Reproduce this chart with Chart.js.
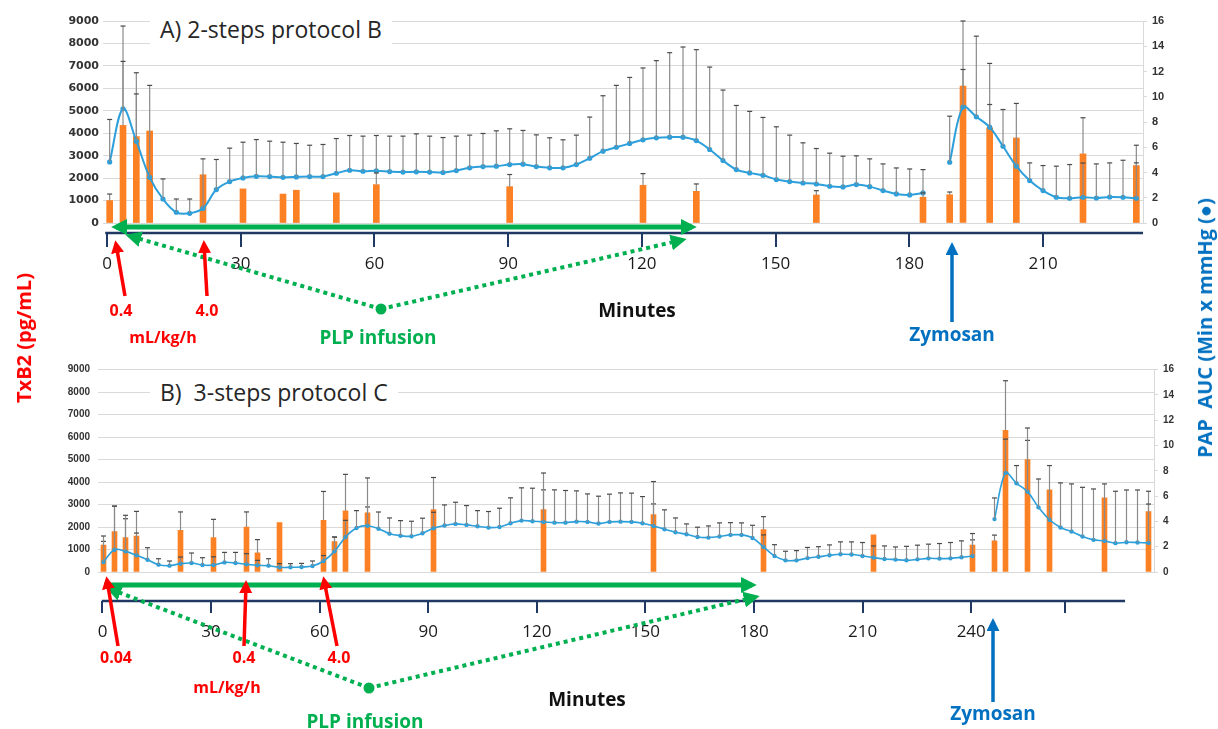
<!DOCTYPE html>
<html>
<head>
<meta charset="utf-8">
<script src="https://cdn.jsdelivr.net/npm/chart.js@4.4.1/dist/chart.umd.min.js"></script>
<style>
  body { margin: 0; background: #fff; width: 1218px; height: 729px; position: relative; overflow: hidden; font-family: "Open Sans", sans-serif; }
  canvas { position: absolute; left: 0; }
  #topChart { top: 0; }
  #botChart { top: 340px; }
  svg { position: absolute; left: 0; top: 0; }
  .t { position: absolute; white-space: nowrap; transform: translate(-50%, -50%); font-weight: 700; line-height: 1; }
  .red { color: #ff0000; font-size: 16px; }
  .big { font-size: 19px; }
  .green { color: #00b050; }
  .blue { color: #0070c0; }
  .rot { transform: translate(-50%, -50%) rotate(-90deg); font-size: 20px; }
  .title { position: absolute; background: #fff; font-size: 23px; color: #262626; line-height: 1; padding: 6px 10px; white-space: nowrap; }
</style>
</head>
<body>
<canvas id="topChart" width="1218" height="290"></canvas>
<canvas id="botChart" width="1218" height="310"></canvas>

<svg width="1218" height="729">
  <defs>
    <marker id="hRed" viewBox="0 0 10 10" refX="7" refY="5" markerWidth="13" markerHeight="13" markerUnits="userSpaceOnUse" orient="auto-start-reverse"><path d="M0,0 L10,5 L0,10 z" fill="#ff0000"/></marker>
    <marker id="hGreen" viewBox="0 0 10 10" refX="7" refY="5" markerWidth="16" markerHeight="16" markerUnits="userSpaceOnUse" orient="auto-start-reverse"><path d="M0,0 L10,5 L0,10 z" fill="#00b050"/></marker>
    <marker id="hBlue" viewBox="0 0 10 10" refX="7" refY="5" markerWidth="13" markerHeight="13" markerUnits="userSpaceOnUse" orient="auto-start-reverse"><path d="M0,0 L10,5 L0,10 z" fill="#0070c0"/></marker>
  </defs>
  <!-- panel A -->
  <line x1="116" y1="227" x2="692" y2="227" stroke="#00b050" stroke-width="5" marker-start="url(#hGreen)" marker-end="url(#hGreen)"/>
  <line x1="381" y1="309" x2="130" y2="236" stroke="#00b050" stroke-width="4" stroke-dasharray="4 4" marker-end="url(#hGreen)"/>
  <line x1="381" y1="309" x2="682" y2="240" stroke="#00b050" stroke-width="4" stroke-dasharray="4 4" marker-end="url(#hGreen)"/>
  <circle cx="381" cy="309" r="5.5" fill="#00b050"/>
  <line x1="125" y1="296" x2="116" y2="244" stroke="#ff0000" stroke-width="3.5" marker-end="url(#hRed)"/>
  <line x1="207" y1="296" x2="204" y2="244" stroke="#ff0000" stroke-width="3.5" marker-end="url(#hRed)"/>
  <line x1="952" y1="322" x2="952" y2="246" stroke="#0070c0" stroke-width="3.5" marker-end="url(#hBlue)"/>
  <!-- panel B -->
  <line x1="104" y1="585" x2="752" y2="585" stroke="#00b050" stroke-width="5" marker-end="url(#hGreen)"/>
  <line x1="369" y1="688" x2="110" y2="589" stroke="#00b050" stroke-width="4" stroke-dasharray="4 4" marker-end="url(#hGreen)"/>
  <line x1="369" y1="688" x2="755" y2="597" stroke="#00b050" stroke-width="4" stroke-dasharray="4 4" marker-end="url(#hGreen)"/>
  <circle cx="369" cy="688" r="5.5" fill="#00b050"/>
  <line x1="118" y1="646" x2="107" y2="580" stroke="#ff0000" stroke-width="3.5" marker-end="url(#hRed)"/>
  <line x1="244" y1="646" x2="246" y2="584" stroke="#ff0000" stroke-width="3.5" marker-end="url(#hRed)"/>
  <line x1="337" y1="646" x2="324" y2="580" stroke="#ff0000" stroke-width="3.5" marker-end="url(#hRed)"/>
  <line x1="993" y1="702" x2="993" y2="622" stroke="#0070c0" stroke-width="3.5" marker-end="url(#hBlue)"/>
</svg>

<div class="title" style="left:150px; top:12px;">A) 2-steps protocol B</div>
<div class="title" style="left:150px; top:375px;">B)&nbsp; 3-steps protocol C</div>

<div class="t red" style="left:121px; top:310px;">0.4</div>
<div class="t red" style="left:207px; top:310px;">4.0</div>
<div class="t red" style="left:163px; top:337px;">mL/kg/h</div>
<div class="t big" style="left:637px; top:310px; color:#111;">Minutes</div>
<div class="t big green" style="left:378px; top:337px;">PLP infusion</div>
<div class="t big blue" style="left:952px; top:334px;">Zymosan</div>

<div class="t red" style="left:116px; top:657px;">0.04</div>
<div class="t red" style="left:244px; top:657px;">0.4</div>
<div class="t red" style="left:339px; top:657px;">4.0</div>
<div class="t red" style="left:227px; top:687px;">mL/kg/h</div>
<div class="t big" style="left:587px; top:699px; color:#111;">Minutes</div>
<div class="t big green" style="left:365px; top:721px;">PLP infusion</div>
<div class="t big blue" style="left:993px; top:713px;">Zymosan</div>

<div class="t rot" style="left:24px; top:338px; color:#ff0000;">TxB2 (pg/mL)</div>
<div class="t rot" style="left:1205px; top:328px; color:#0070c0;">PAP&nbsp; AUC (Min x mmHg (●)</div>

<script>
const n = null;

// ---- Panel A: 2-steps protocol B ----
const topPap = [
  4.84, 9.05, 6.48, 3.62, 1.9, 0.85, 0.77, 1.16, 2.65, 3.28,
  3.57, 3.7, 3.68, 3.62, 3.65, 3.68, 3.68, 3.94, 4.18, 4.1,
  4.13, 4.07, 4.03, 4.05, 4.03, 4.0, 4.15, 4.37, 4.47, 4.5,
  4.63, 4.66, 4.47, 4.37, 4.37, 4.63, 5.13, 5.69, 6.0, 6.3,
  6.59, 6.75, 6.8, 6.8, 6.53, 5.82, 4.95, 4.23, 3.97, 3.78,
  3.44, 3.28, 3.17, 3.09, 2.91, 2.86, 3.04, 2.88, 2.57, 2.3,
  2.22, 2.38, n, 4.81, 9.18, 8.41, 7.59, 6.08, 4.5, 3.36,
  2.57, 2.04, 1.96, 2.04, 1.98, 2.06, 2.04, 1.96
];
const topPapErr = [
  8.2, 15.6, 11.9, 10.9, 3.49, 1.9, 1.9, 5.08, 5.03, 5.93,
  6.4, 6.61, 6.48, 6.4, 6.3, 6.16, 6.22, 6.69, 6.93, 6.88,
  6.93, 6.88, 6.88, 7.06, 6.88, 6.77, 6.88, 6.96, 7.09, 7.3,
  7.46, 7.33, 6.98, 6.75, 6.59, 6.96, 8.39, 10.08, 10.9, 11.53,
  12.28, 12.86, 13.49, 13.94, 13.73, 12.35, 10.53, 9.31, 8.84, 8.36,
  7.62, 6.96, 6.35, 5.9, 5.53, 5.29, 5.32, 5.08, 4.68, 4.36,
  4.28, 4.23, n, 8.46, 16, 14.8, 12.64, 8.99, 9.47, 4.76,
  4.55, 4.5, 4.63, 4.75, 4.68, 4.76, 4.97, 6.16
];
const topTx = [
  1000, 4350, 3850, 4100, n, n, n, 2150, n, n,
  1520, n, n, 1290, 1460, n, n, 1340, n, n,
  1710, n, n, n, n, n, n, n, n, n,
  1620, n, n, n, n, n, n, n, n, n,
  1680, n, n, n, 1410, n, n, n, n, n,
  n, n, n, 1250, n, n, n, n, n, n,
  n, 1150, n, 1260, 6100, n, 4240, n, 3790, n,
  n, n, n, 3080, n, n, n, 2560
];
const topTxErr = [
  1290, 7200, 5750, n, n, n, n, n, n, n,
  n, n, n, n, n, n, n, n, n, n,
  2230, n, n, n, n, n, n, n, n, n,
  2160, n, n, n, n, n, n, n, n, n,
  2200, n, n, n, 1740, n, n, n, n, n,
  n, n, n, 1440, n, n, n, n, n, n,
  n, 1340, n, 1380, 6840, n, 5280, n, n, n,
  n, n, n, 4690, n, n, n, 2680
];
const topTickMinutes = [0, 30, 60, 90, 120, 150, 180, 210];
const topTickLabels = ['0', '30', '60', '90', '120', '150', '180', '210'];

// ---- Panel B: 3-steps protocol C ----
const botPap = [
  0.79, 1.76, 1.63, 1.32, 0.97, 0.58, 0.5, 0.66, 0.71, 0.55,
  0.55, 0.76, 0.71, 0.61, 0.53, 0.5, 0.37, 0.37, 0.4, 0.47,
  0.87, 1.63, 2.77, 3.48, 3.66, 3.42, 3.03, 2.87, 2.82, 3.06,
  3.46, 3.67, 3.8, 3.72, 3.61, 3.51, 3.56, 3.85, 4.06, 4.01,
  3.96, 3.9, 3.9, 3.98, 3.96, 3.83, 3.96, 3.98, 3.96, 3.85,
  3.64, 3.38, 3.14, 2.98, 2.77, 2.72, 2.8, 2.93, 2.93, 2.69,
  1.98, 1.27, 0.92, 0.92, 1.1, 1.2, 1.32, 1.4, 1.38, 1.27,
  1.14, 1.03, 0.98, 0.93, 1.0, 1.08, 1.06, 1.08, 1.16, 1.27,
  n, 4.18, 7.83, 7.01, 6.35, 5.11, 4.13, 3.52, 3.2, 2.8,
  2.54, 2.46, 2.28, 2.35, 2.33, 2.3
];
const botPapErr = [
  2.42, 5.2, 4.21, 4.79, 1.92, 1.05, 0.87, 1.18, 1.5, 1.13,
  1.2, 1.55, 1.55, 1.45, 0.92, 1.05, 0.66, 0.66, 0.68, 0.87,
  1.3, 2.77, 4.08, 4.85, 5.14, 4.74, 4.27, 4.06, 4.01, 4.25,
  4.72, 5.3, 5.51, 5.25, 4.85, 4.78, 5.04, 5.86, 6.65, 6.62,
  6.49, 6.49, 6.44, 6.41, 6.17, 5.99, 6.15, 6.25, 6.23, 5.96,
  5.38, 4.91, 4.27, 3.8, 3.54, 3.64, 3.88, 3.9, 3.88, 3.69,
  2.93, 2.16, 1.64, 1.69, 1.94, 2.0, 2.14, 2.38, 2.38, 2.33,
  2.06, 2.06, 1.98, 2.03, 2.12, 2.2, 2.25, 2.33, 2.46, 2.54,
  n, 5.85, 10.5, 8.41, 10.4, 7.35, 8.41, 7.04, 6.96, 6.69,
  6.56, 6.96, 6.38, 6.48, 6.48, 6.38
];
const botTx = [
  1200, 1800, 1530, 1600, n, n, n, 1850, n, n,
  1530, n, n, 2000, 850, n, 2200, n, n, n,
  2300, 1350, 2720, n, 2630, n, n, n, n, n,
  2770, n, n, n, n, n, n, n, n, n,
  2770, n, n, n, n, n, n, n, n, n,
  2550, n, n, n, n, n, n, n, n, n,
  1880, n, n, n, n, n, n, n, n, n,
  1650, n, n, n, n, n, n, n, n, 1200,
  n, 1380, 6300, n, 5000, n, 3650, n, n, n,
  n, 3300, n, n, n, 2680
];
const botTxErr = [
  1600, 2930, 2520, 1730, n, n, n, 2670, n, n,
  2340, n, n, 2670, 1440, n, n, n, n, n,
  3580, 1550, 4340, n, 4180, n, n, n, n, n,
  4200, n, n, n, n, n, n, n, n, n,
  4400, n, n, n, n, n, n, n, n, n,
  4020, n, n, n, n, n, n, n, n, n,
  2460, n, n, n, n, n, n, n, n, n,
  n, n, n, n, n, n, n, n, n, 1710,
  n, 1640, 8500, n, 6400, n, n, n, n, n,
  n, n, n, n, n, 3020
];
const botTickMinutes = [0, 30, 60, 90, 120, 150, 180, 210, 240, 266];
const botTickLabels = ['0', '30', '60', '90', '120', '150', '180', '210', '240', ''];

const txTicks = [0, 1000, 2000, 3000, 4000, 5000, 6000, 7000, 8000, 9000];
const papTicks = [0, 2, 4, 6, 8, 10, 12, 14, 16];

const ORANGE = '#fb8124';
const BLUE = '#2d9fda';
const NAVY = '#1f3864';
const GRID = '#d9d9d9';

// upward error bars for every dataset that has errTop
const errorBars = {
  id: 'errorBars',
  afterDatasetsDraw(chart) {
    const ctx = chart.ctx;
    const xs = chart.scales.x;
    chart.data.datasets.forEach(ds => {
      const ys = chart.scales[ds.yAxisID];
      ctx.save();
      ds.errTop.forEach((top, i) => {
        if (top == null || ds.data[i] == null) return;
        const px = xs.getPixelForValue(i);
        const y0 = ys.getPixelForValue(ds.data[i]);
        const y1 = ys.getPixelForValue(top);
        ctx.strokeStyle = '#8a8a8a';
        ctx.lineWidth = 1.2;
        ctx.beginPath(); ctx.moveTo(px, y0); ctx.lineTo(px, y1); ctx.stroke();
        ctx.strokeStyle = '#4a4a4a';
        ctx.beginPath(); ctx.moveTo(px - 2.5, y1); ctx.lineTo(px + 2.5, y1); ctx.stroke();
      });
      ctx.restore();
    });
  }
};

// navy minutes axis line, trimmed to where the hand-drawn axis runs
const minuteLine = {
  id: 'minuteLine',
  afterDraw(chart, args, opts) {
    const s = chart.scales.xm;
    const ctx = chart.ctx;
    ctx.save();
    ctx.strokeStyle = NAVY;
    ctx.lineWidth = 2.5;
    ctx.beginPath();
    ctx.moveTo(s.getPixelForValue(opts.from), s.top);
    ctx.lineTo(s.getPixelForValue(opts.to), s.top);
    ctx.stroke();
    ctx.restore();
  }
};

function buildPanel(id, p) {
  return new Chart(document.getElementById(id), {
    type: 'bar',
    data: {
      labels: p.pap.map((_, i) => 'S' + (i + 1)),
      datasets: [
        {
          type: 'line', data: p.pap, errTop: p.papErr, yAxisID: 'yR', order: 0,
          borderColor: BLUE, backgroundColor: BLUE, borderWidth: p.lineW,
          pointRadius: p.pointR, pointBorderWidth: 0, tension: 0.35, spanGaps: false
        },
        {
          type: 'bar', data: p.tx, errTop: p.txErr, yAxisID: 'y', order: 1,
          backgroundColor: ORANGE, barThickness: p.barW
        }
      ]
    },
    options: {
      responsive: false,
      animation: false,
      devicePixelRatio: 1,
      layout: { padding: { top: p.padTop, bottom: p.padBottom, left: 0, right: 0 } },
      plugins: {
        legend: { display: false },
        tooltip: { enabled: false },
        minuteLine: { from: p.lineFrom, to: p.lineTo }
      },
      scales: {
        x: {
          display: true, weight: 0,
          grid: { display: false }, border: { display: false },
          ticks: { display: false },
          afterFit: s => { s.height = p.gap; }
        },
        xm: {
          type: 'linear', position: 'bottom', weight: 1,
          offset: false,
          min: p.mMin, max: p.mMax,
          afterBuildTicks: s => { s.ticks = p.tickMinutes.map(v => ({ value: v })); },
          afterFit: s => { s.height = 40; },
          grid: { offset: false, drawOnChartArea: false, drawTicks: true, tickLength: p.tickLen, color: NAVY, lineWidth: 2 },
          border: { display: false },
          ticks: {
            autoSkip: false, maxRotation: 0, padding: p.tickPad,
            color: '#1a1a1a', font: { family: 'Open Sans', size: 17 },
            callback: (v, i) => p.tickLabels[i]
          }
        },
        y: {
          position: 'left', min: 0, max: 9000,
          afterBuildTicks: s => { s.ticks = txTicks.map(v => ({ value: v })); },
          afterFit: s => { s.width = p.leftW; },
          grid: { color: GRID, lineWidth: 1, drawTicks: false },
          border: { display: false },
          ticks: { padding: p.leftPad, color: '#333', font: p.leftFont, callback: v => String(v) }
        },
        yR: {
          position: 'right', min: 0, max: 16,
          afterBuildTicks: s => { s.ticks = papTicks.map(v => ({ value: v })); },
          afterFit: s => { s.width = p.rightW; },
          grid: { drawOnChartArea: false, drawTicks: true, tickLength: 4, color: GRID },
          border: { display: true, color: GRID },
          ticks: { padding: 5, color: '#333', font: p.rightFont, callback: v => String(v) }
        }
      }
    },
    plugins: [errorBars, minuteLine]
  });
}

buildPanel('topChart', {
  pap: topPap, papErr: topPapErr, tx: topTx, txErr: topTxErr,
  tickMinutes: topTickMinutes, tickLabels: topTickLabels,
  mMin: -0.9, mMax: 232.4, lineFrom: -0.4, lineTo: 232.4,
  padTop: 21, padBottom: 17, gap: 10, tickLen: 14, tickPad: 7,
  leftW: 103, rightW: 75, leftPad: 4,
  leftFont: { family: 'DejaVu Sans', size: 11, weight: 'bold' },
  rightFont: { family: 'Liberation Sans', size: 11, weight: 'bold' },
  lineW: 2, pointR: 2.6, barW: 6
});

buildPanel('botChart', {
  pap: botPap, papErr: botPapErr, tx: botTx, txErr: botTxErr,
  tickMinutes: botTickMinutes, tickLabels: botTickLabels,
  mMin: -1.24, mMax: 290.5, lineFrom: -0.2, lineTo: 282.5,
  padTop: 29.5, padBottom: 9, gap: 29, tickLen: 12, tickPad: 9,
  leftW: 98, rightW: 64, leftPad: 8,
  leftFont: { family: 'Liberation Sans', size: 10, weight: 'bold' },
  rightFont: { family: 'Liberation Sans', size: 10, weight: 'bold' },
  lineW: 1.6, pointR: 2.2, barW: 5
});
</script>
</body>
</html>
